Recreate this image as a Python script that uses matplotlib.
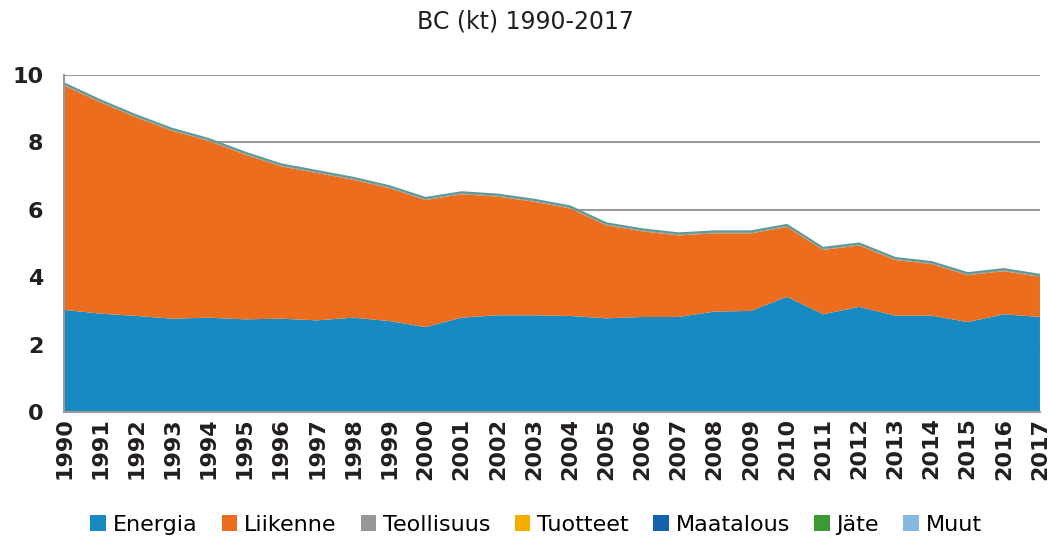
import matplotlib
matplotlib.use("Agg")
import matplotlib.pyplot as plt
from matplotlib.patches import Patch

years = list(range(1990, 2018))

# kt
energia = [3.03, 2.92, 2.85, 2.77, 2.8, 2.75, 2.77, 2.72, 2.8, 2.7,
           2.52, 2.8, 2.87, 2.87, 2.85, 2.78, 2.82, 2.82, 2.98, 3.0,
           3.42, 2.9, 3.12, 2.86, 2.86, 2.67, 2.9, 2.82]
total = [9.75, 9.25, 8.8, 8.4, 8.1, 7.7, 7.35, 7.15, 6.95, 6.7,
         6.35, 6.52, 6.45, 6.3, 6.1, 5.6, 5.42, 5.3, 5.36, 5.36,
         5.55, 4.87, 5.0, 4.57, 4.45, 4.12, 4.24, 4.07]
teollisuus = [0.03] * 28
tuotteet = [0.005] * 28
maatalous = [0.005] * 28
jate = [0.005] * 28
muut = [0.015] * 28
liikenne = [t - e - 0.06 for t, e in zip(total, energia)]

labels = ["Energia", "Liikenne", "Teollisuus", "Tuotteet", "Maatalous", "Jäte", "Muut"]
colors = ["#168ac1", "#ec6d1e", "#979797", "#f5ae00", "#1461ad", "#3c9a32", "#88b8e2"]

plt.rcParams['font.family'] = ["DejaVu Sans"]

fig = plt.figure(figsize=(10.51, 5.41), dpi=100)
ax = fig.add_axes([0.061, 0.2384, 0.9285, 0.623])

ax.stackplot(years, energia, liikenne, teollisuus, tuotteet, maatalous, jate, muut,
             colors=colors, linewidth=0)
ax.plot(years, total, color="#5f9a96", lw=1.5)

ax.set_xlim(1990, 2017)
ax.set_ylim(0, 10)
ax.set_yticks([0, 2, 4, 6, 8, 10])
ax.set_xticks(years)
ax.set_xticklabels([str(y) for y in years], rotation=90, fontsize=16, fontweight="bold", color="#231f20")
ax.tick_params(axis="y", labelsize=16, length=0, pad=15, labelcolor="#231f20")
ax.tick_params(axis="x", length=0, pad=4)
for t in ax.get_yticklabels():
    t.set_fontweight("bold")
ax.grid(axis="y", color="#9a9a9a", lw=1.5)
ax.set_axisbelow(True)
for s in ["top", "right"]:
    ax.spines[s].set_visible(False)
ax.spines["left"].set_color("#9a9a9a")
ax.spines["left"].set_linewidth(1.5)
ax.spines["bottom"].set_color("#9a9a9a")
ax.spines["bottom"].set_linewidth(1.5)

fig.text(0.5, 0.96, "BC (kt) 1990-2017", ha="center", va="center", fontsize=17, color="#231f20")

handles = [Patch(facecolor=c, label=l) for c, l in zip(colors, labels)]
fig.legend(handles=handles, loc="center", bbox_to_anchor=(0.51, 0.03), ncol=7, frameon=False,
           fontsize=16, handlelength=0.7, handleheight=0.7, handletextpad=0.3, columnspacing=1.1)

fig.savefig("out.png", dpi=100)
